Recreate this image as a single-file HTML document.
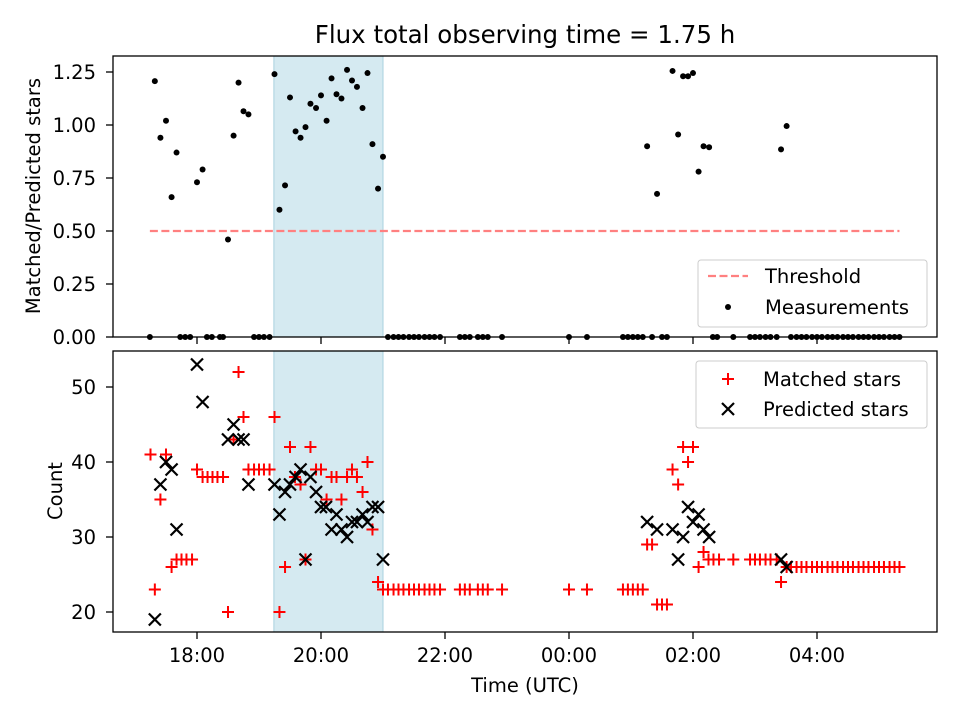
<!DOCTYPE html>
<html><head><meta charset="utf-8"><style>
body{margin:0;background:#fff}
svg{display:block;font-family:"DejaVu Sans","Liberation Sans",sans-serif}
</style></head><body>
<svg id="fig" width="960" height="720" xmlns="http://www.w3.org/2000/svg"></svg>
<script>
// ---- data (hours since 00:00 of first day; >24 = next day) ----
const measTimes = [17.32,17.41,17.50,17.59,17.67,18.0,18.09,18.50,18.59,18.67,18.75,18.83,19.25,19.33,19.42,19.50,19.59,19.67,19.75,19.83,19.92,20.0,20.09,20.17,20.25,20.33,20.42,20.50,20.58,20.67,20.75,20.83,20.92,21.0,25.26,25.42,25.67,25.76,25.84,25.92,26.0,26.09,26.17,26.26,27.42,27.51];
const measValues = [1.207,0.94,1.02,0.66,0.87,0.73,0.79,0.46,0.95,1.20,1.065,1.05,1.24,0.60,0.715,1.13,0.97,0.94,0.99,1.10,1.08,1.14,1.02,1.22,1.145,1.125,1.26,1.21,1.18,1.08,1.245,0.91,0.70,0.85,0.90,0.675,1.255,0.955,1.23,1.23,1.245,0.78,0.90,0.895,0.885,0.995];
const zeroTimes = [17.24,17.73,17.81,17.89,18.16,18.24,18.37,18.42,18.92,19.0,19.08,19.17,21.08,21.17,21.25,21.33,21.42,21.5,21.58,21.67,21.75,21.83,21.92,22.24,22.32,22.40,22.53,22.61,22.69,22.92,24.0,24.29,24.87,24.95,25.03,25.11,25.19,25.34,25.5,25.58,26.32,26.39,26.65,26.92,27.0,27.08,27.17,27.25,27.35,27.58,27.67,27.75,27.83,27.92,28.0,28.08,28.17,28.25,28.33,28.42,28.5,28.58,28.67,28.75,28.83,28.92,29.0,29.08,29.17,29.25,29.33];
const threshold = 0.5;
const thresholdRange = [17.24, 29.33];
const shadeRange = [19.24, 21.0];

const matchedTimes = [17.25,17.32,17.41,17.50,17.59,17.67,17.75,17.83,17.92,18.0,18.09,18.17,18.25,18.33,18.42,18.50,18.59,18.67,18.75,18.83,18.92,19.0,19.08,19.17,19.25,19.33,19.42,19.50,19.58,19.67,19.75,19.83,19.92,20.0,20.09,20.17,20.25,20.33,20.42,20.50,20.58,20.67,20.75,20.83,20.92,21.0,21.08,21.17,21.25,21.33,21.42,21.5,21.58,21.67,21.75,21.83,21.92,22.24,22.32,22.40,22.53,22.61,22.69,22.92,24.0,24.29,24.87,24.95,25.03,25.11,25.19,25.26,25.34,25.42,25.5,25.58,25.67,25.76,25.84,25.92,26.0,26.09,26.17,26.25,26.33,26.42,26.65,26.92,27.0,27.08,27.17,27.25,27.35,27.42,27.51,27.58,27.67,27.75,27.83,27.92,28.0,28.08,28.17,28.25,28.33,28.42,28.5,28.58,28.67,28.75,28.83,28.92,29.0,29.08,29.17,29.25,29.33];
const matchedValues = [41,23,35,41,26,27,27,27,27,39,38,38,38,38,38,20,43,52,46,39,39,39,39,39,46,20,26,42,38,37,27,42,39,39,35,38,38,35,38,39,38,36,40,31,24,23,23,23,23,23,23,23,23,23,23,23,23,23,23,23,23,23,23,23,23,23,23,23,23,23,23,29,29,21,21,21,39,37,42,40,42,26,28,27,27,27,27,27,27,27,27,27,27,24,26,26,26,26,26,26,26,26,26,26,26,26,26,26,26,26,26,26,26,26,26,26,26];
const predTimes = [17.32,17.41,17.50,17.59,17.67,18.0,18.09,18.50,18.59,18.67,18.75,18.83,19.25,19.33,19.42,19.50,19.59,19.67,19.75,19.83,19.92,20.0,20.08,20.17,20.25,20.33,20.42,20.5,20.58,20.67,20.75,20.83,20.92,21.0,25.26,25.42,25.67,25.76,25.84,25.92,26.0,26.09,26.17,26.26,27.42,27.51];
const predValues = [19,37,40,39,31,53,48,43,45,43,43,37,37,33,36,37,38,39,27,38,36,34,34,31,33,31,30,32,32,33,32,34,34,27,32,31,31,27,30,34,32,33,31,30,27,26];

const topTicks = [0,0.25,0.5,0.75,1.0,1.25];
const topTickLabels = ["0.00","0.25","0.50","0.75","1.00","1.25"];
const botTicks = [20,30,40,50];
const xTicks = [18,20,22,24,26,28];
const xTickLabels = ["18:00","20:00","22:00","00:00","02:00","04:00"];

// ---- layout ----
const NS="http://www.w3.org/2000/svg";
const svg=document.getElementById('fig');
const L=113,R=937, T1=56,B1=337, T2=351,B2=632;
const FS='19.5';
const xs=h=>197+(h-18)*62;
const y1=v=>337-v*212;
const y2=v=>612-(v-20)*7.5;
function mk(tag,attrs,parent){const e=document.createElementNS(NS,tag);for(const k in attrs)e.setAttribute(k,attrs[k]);(parent||svg).appendChild(e);return e;}
function txt(s,attrs,parent){const e=mk('text',attrs,parent);e.textContent=s;return e;}

let e;
e=txt("Flux total observing time = 1.75 h",{x:525,y:43,'text-anchor':'middle','font-size':'24.5'});



function panel(top,bot,name){
  const g=mk('g',{});
  
  
  const sh=mk('rect',{x:xs(shadeRange[0]),y:top,width:xs(shadeRange[1])-xs(shadeRange[0]),height:bot-top,fill:'#d5eaf1',stroke:'#a9d2df','stroke-width':1},g);
  
  
  return g;
}
function frame(g,top,bot){
  mk('rect',{x:L,y:top,width:R-L,height:bot-top,fill:'none',stroke:'#000','stroke-width':1.3},g);
}
function xaxis(g,bot,labels){
  xTicks.forEach((t,i)=>{
    const x=xs(t);
    mk('line',{x1:x,x2:x,y1:bot,y2:bot+7,stroke:'#000','stroke-width':1.3},g);
    if(labels){
      const tl=txt(xTickLabels[i],{x:x,y:bot+30,'text-anchor':'middle','font-size':FS},g);
      
      
    }
  });
}

// ---- top panel ----
const g1=panel(T1,B1,'ratio-panel');
const th=mk('line',{x1:xs(thresholdRange[0]),x2:xs(thresholdRange[1]),y1:y1(threshold),y2:y1(threshold),stroke:'#ff8080','stroke-width':2.2,'stroke-dasharray':'8,3.5'},g1);


measTimes.forEach((t,i)=>{
  const c=mk('circle',{cx:xs(t),cy:y1(measValues[i]),r:3,fill:'#000'},g1);
  
  
});
zeroTimes.forEach(t=>{
  const c=mk('circle',{cx:xs(t),cy:y1(0),r:3,fill:'#000'},g1);
  
  
});
frame(g1,T1,B1);
xaxis(g1,B1,false);
topTicks.forEach((v,i)=>{
  const y=y1(v);
  mk('line',{x1:L-7,x2:L,y1:y,y2:y,stroke:'#000','stroke-width':1.3},g1);
  const tl=txt(topTickLabels[i],{x:L-17,y:y+7,'text-anchor':'end','font-size':FS},g1);
  
  
});
e=txt("Matched/Predicted stars",{x:0,y:0,'text-anchor':'middle','font-size':FS,transform:'translate(40,196) rotate(-90)'});



// top legend
const lg1=mk('g',{});


mk('rect',{x:698,y:260,width:229,height:67,rx:3,fill:'#fff','fill-opacity':0.8,stroke:'#ccc'},lg1);
mk('line',{x1:708,x2:748,y1:276,y2:276,stroke:'#ff8080','stroke-width':2.2,'stroke-dasharray':'8,3.5'},lg1);
txt("Threshold",{x:765,y:283,'font-size':FS},lg1);
mk('circle',{cx:728,cy:307,r:3,fill:'#000'},lg1);
txt("Measurements",{x:765,y:314,'font-size':FS},lg1);

// ---- bottom panel ----
const g2=panel(T2,B2,'count-panel');
matchedTimes.forEach((t,i)=>{
  const x=xs(t),y=y2(matchedValues[i]);
  const p=mk('path',{d:`M${x-6},${y}H${x+6}M${x},${y-6}V${y+6}`,stroke:'#ff0000','stroke-width':2},g2);
  
  
});
predTimes.forEach((t,i)=>{
  const x=xs(t),y=y2(predValues[i]);
  const p=mk('path',{d:`M${x-6},${y-6}L${x+6},${y+6}M${x-6},${y+6}L${x+6},${y-6}`,stroke:'#000','stroke-width':2.2},g2);
  
  
});
frame(g2,T2,B2);
xaxis(g2,B2,true);
botTicks.forEach(v=>{
  const y=y2(v);
  mk('line',{x1:L-7,x2:L,y1:y,y2:y,stroke:'#000','stroke-width':1.3},g2);
  const tl=txt(String(v),{x:L-17,y:y+7,'text-anchor':'end','font-size':FS},g2);
  
  
});
e=txt("Count",{x:0,y:0,'text-anchor':'middle','font-size':FS,transform:'translate(62,491) rotate(-90)'});


e=txt("Time (UTC)",{x:525,y:692,'text-anchor':'middle','font-size':FS});



// bottom legend
const lg2=mk('g',{});


mk('rect',{x:696,y:361,width:231,height:67,rx:3,fill:'#fff','fill-opacity':0.8,stroke:'#ccc'},lg2);
mk('path',{d:'M722,379H734M728,373V385',stroke:'#ff0000','stroke-width':2},lg2);
txt("Matched stars",{x:763,y:386,'font-size':FS},lg2);
mk('path',{d:'M722,403L734,415M722,415L734,403',stroke:'#000','stroke-width':2.2},lg2);
txt("Predicted stars",{x:763,y:416,'font-size':FS},lg2);
</script>
</body></html>
